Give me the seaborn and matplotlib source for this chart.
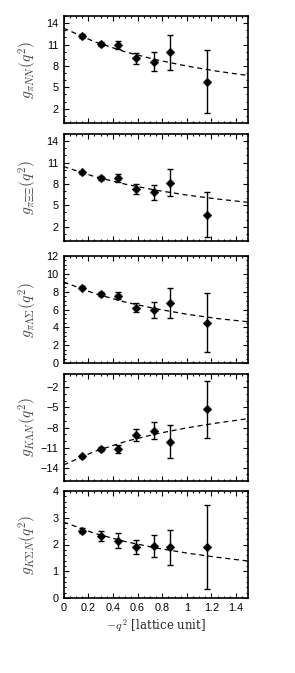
import numpy as np
import pandas as pd
import matplotlib
matplotlib.use("Agg")
import matplotlib.pyplot as plt
import seaborn as sns
from matplotlib.ticker import MultipleLocator

# ---- data ----
q2 = [0.15, 0.30, 0.44, 0.585, 0.73, 0.865, 1.165]

g_piNN = [12.15, 11.08, 10.9, 9.06, 8.6, 9.9, 5.8]
e_piNN = [0.3, 0.3, 0.55, 0.8, 1.3, 2.4, 4.4]

g_piXX = [9.63, 8.82, 8.88, 7.31, 6.8, 8.17, 3.7]
e_piXX = [0.25, 0.3, 0.55, 0.7, 1.05, 1.9, 3.15]

g_piLS = [8.45, 7.72, 7.53, 6.22, 5.96, 6.74, 4.54]
e_piLS = [0.2, 0.25, 0.4, 0.47, 0.9, 1.64, 3.3]

g_KLN = [-12.29, -11.24, -11.24, -9.18, -8.48, -10.13, -5.27]
e_KLN = [0.25, 0.3, 0.6, 0.9, 1.3, 2.46, 4.27]

g_KSN = [2.52, 2.31, 2.14, 1.9, 1.93, 1.9, 1.91]
e_KSN = [0.1, 0.19, 0.28, 0.25, 0.41, 0.65, 1.56]

# dashed fit curves at these q^2 values
fit_q2 = [0.0, 0.25, 0.5, 0.75, 1.0, 1.25, 1.5]
fit_piNN = [13.3, 11.4, 9.98, 8.87, 7.98, 7.25, 6.65]
fit_piXX = [10.44, 9.04, 7.97, 7.12, 6.44, 5.88, 5.41]
fit_piLS = [9.09, 7.8, 6.83, 6.08, 5.47, 4.98, 4.62]
fit_KLN = [-13.6, -11.6, -10.1, -8.96, -8.05, -7.31, -6.67]
fit_KSN = [2.84, 2.42, 2.11, 1.87, 1.68, 1.52, 1.38]

ylabels = [r"$g_{\pi NN}(q^2)$", r"$g_{\pi \Xi\Xi}(q^2)$", r"$g_{\pi \Lambda\Sigma}(q^2)$",
           r"$g_{K \Lambda N}(q^2)$", r"$g_{K \Sigma N}(q^2)$"]
xlabel = r"$-q^{\,2}$ [lattice unit]"
x_ticks = [0, 0.2, 0.4, 0.6, 0.8, 1, 1.2, 1.4]
x_ticklabels = ["0", "0.2", "0.4", "0.6", "0.8", "1", "1.2", "1.4"]

panels = [
    (g_piNN, e_piNN, fit_piNN, (0, 15), [2, 5, 8, 11, 14], 1),
    (g_piXX, e_piXX, fit_piXX, (0, 15), [2, 5, 8, 11, 14], 1),
    (g_piLS, e_piLS, fit_piLS, (0, 12), [0, 2, 4, 6, 8, 10, 12], 0.5),
    (g_KLN, e_KLN, fit_KLN, (-16, 0), [-2, -5, -8, -11, -14], 1),
    (g_KSN, e_KSN, fit_KSN, (0, 4), [0, 1, 2, 3, 4], 0.2),
]

sns.set_style("ticks")
plt.rcParams["font.family"] = ["Liberation Sans", "DejaVu Sans"]
plt.rcParams["mathtext.fontset"] = "cm"

W, H = 295, 673
fig = plt.figure(figsize=(W / 100, H / 100), dpi=100)

left, right = 63.5, 248.5
tops = [16, 134, 256, 374, 491]
ph = 107

for i, (g, e, fit, ylim, yt, ymin) in enumerate(panels):
    top = tops[i]
    ax = fig.add_axes([left / W, 1 - (top + ph) / H, (right - left) / W, ph / H])
    dfp = pd.DataFrame({"q2": q2, "g": g, "e": e})
    dff = pd.DataFrame({"q2": fit_q2, "g": fit})
    sns.lineplot(data=dff, x="q2", y="g", ax=ax, color="black", lw=0.9,
                 linestyle=(0, (4, 3)), zorder=2)
    ax.errorbar(dfp["q2"], dfp["g"], yerr=dfp["e"], fmt="none", ecolor="black",
                elinewidth=1.0, capsize=2.2, capthick=1.0, zorder=3)
    sns.scatterplot(data=dfp, x="q2", y="g", ax=ax, marker="D", s=20,
                    color="black", edgecolor="black", linewidth=0.3, zorder=4)
    ax.set_xlim(0, 1.5)
    ax.set_ylim(*ylim)
    ax.set_yticks(yt)
    ax.yaxis.set_minor_locator(MultipleLocator(ymin))
    ax.set_xticks(x_ticks)
    ax.xaxis.set_minor_locator(MultipleLocator(0.05))
    ax.tick_params(which="both", direction="in", top=True, right=True, labelsize=7.8,
                   width=0.8, colors="black")
    ax.tick_params(which="major", length=3.5)
    ax.tick_params(which="minor", length=1.6)
    for sp in ax.spines.values():
        sp.set_linewidth(1.2)
        sp.set_color("black")
    ax.set_ylabel(ylabels[i], fontsize=11, color="#444444")
    ax.yaxis.set_label_coords(-24.5 / (right - left), 0.5)
    if i < 4:
        ax.set_xticklabels([])
        ax.set_xlabel("")
    else:
        ax.set_xticklabels(x_ticklabels)
        ax.set_xlabel(xlabel, fontsize=8.5, family="serif", labelpad=3)

fig.savefig("out.png", dpi=100)
